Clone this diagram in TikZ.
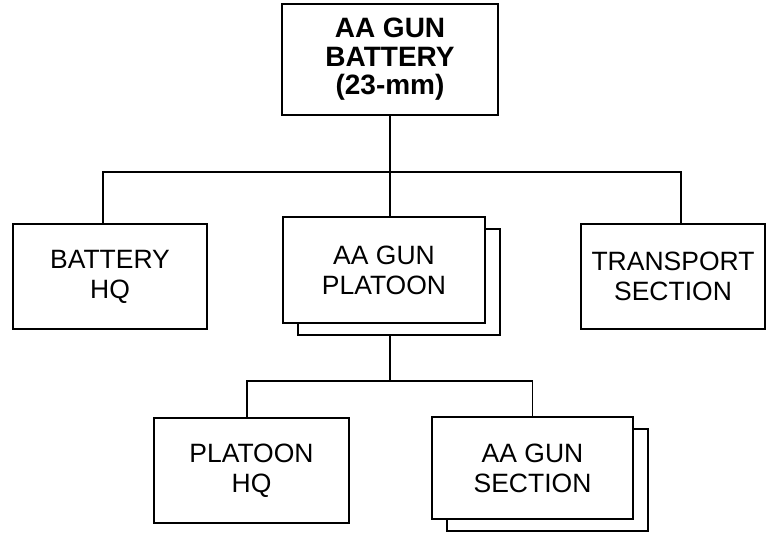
\documentclass[tikz,border=0pt]{standalone}
\usepackage{fontspec}
\setmainfont{Liberation Sans}
\usetikzlibrary{shadows}
\tikzset{
  unit/.style={draw,line width=2.2pt,fill=white,inner sep=0pt,align=center,
    minimum width=194pt,minimum height=105pt,
    font=\fontsize{26.5}{30}\selectfont},
  stack/.style={unit,copy shadow={shadow xshift=15pt,shadow yshift=-12pt}},
  link/.style={line width=1.8pt}
}
\begin{document}
\begin{tikzpicture}[x=1pt,y=-1pt]
\useasboundingbox (0,0) rectangle (767,535);
% command and its units
\node[unit,minimum width=216pt,minimum height=111pt,
  font=\fontsize{28}{28.5}\selectfont\bfseries] (bty) at (390,59.5) {AA GUN\\BATTERY\\(23-mm)};
\node[unit] (bhq) at (110,276.5) {BATTERY\\HQ};
\node[stack,minimum width=202pt,minimum height=106pt] (plt) at (384,270) {AA GUN\\PLATOON};
\node[unit,minimum width=184pt] (trn) at (673,276.5) {TRANSPORT\\SECTION};
% platoon
\node[unit,minimum width=195pt] (phq) at (251.5,470.5) {PLATOON\\HQ};
\node[stack,minimum width=201pt,minimum height=102pt] (sec) at (532.5,468) {AA GUN\\SECTION};
% lines
\coordinate (bus) at (390,172);
\coordinate (pbus) at (390,381);
\draw[link] (bty.south) -- (bty.south |- plt.north);
\draw[link] ([xshift=-7pt]bhq.north) |- (bus) -| ([xshift=8pt]trn.north);
\draw[link] ([yshift=-12pt]plt.south -| bus) -- (pbus);
\draw[link] ([xshift=-4.5pt]phq.north) |- (pbus) -| (sec.north);
\end{tikzpicture}
\end{document}
